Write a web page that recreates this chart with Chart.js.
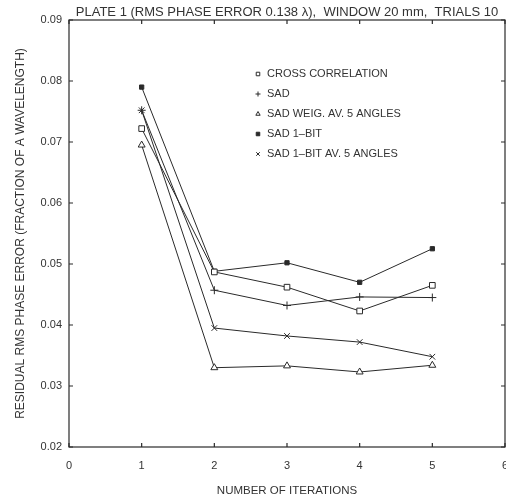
<!DOCTYPE html>
<html>
<head>
<meta charset="utf-8">
<script src="https://cdn.jsdelivr.net/npm/chart.js@4"></script>
<style>
  html, body { margin: 0; padding: 0; background: #fff; }
  #wrap { width: 506px; height: 501px; }
</style>
</head>
<body>
<div id="wrap"><canvas id="myChart" width="506" height="501"></canvas></div>
<script>
// data
const iterations = [1, 2, 3, 4, 5];
const crossCorrelation = [0.0722, 0.0487, 0.0462, 0.0423, 0.0465];
const sad = [0.0752, 0.0457, 0.0432, 0.0446, 0.0445];
const sadWeighted = [0.0695, 0.0330, 0.0333, 0.0323, 0.0334];
const sad1Bit = [0.0790, 0.0488, 0.0502, 0.0470, 0.0525];
const sad1BitAvg = [0.0752, 0.0395, 0.0382, 0.0372, 0.0348];

const xTickValues = [0, 1, 2, 3, 4, 5, 6];
const yTickValues = [0.02, 0.03, 0.04, 0.05, 0.06, 0.07, 0.08, 0.09];

const titleText = "PLATE 1 (RMS PHASE ERROR 0.138 \u03bb),  WINDOW 20 mm,  TRIALS 10";
const ink = "#2a2a2a";

Chart.defaults.font.family = "'Liberation Sans', Arial, sans-serif";
Chart.defaults.font.size = 11;
Chart.defaults.color = "#333";

function pts(arr) {
  return arr.map((v, i) => ({ x: iterations[i], y: v }));
}

function series(label, arr, style, filled) {
  return {
    label: label,
    data: pts(arr),
    borderColor: ink,
    borderWidth: 1,
    pointStyle: style,
    pointRadius: style === "rect" && filled ? 3 : 4,
    pointBorderWidth: 1,
    pointBorderColor: ink,
    pointBackgroundColor: filled ? ink : "#fff",
    fill: false,
    tension: 0,
  };
}

// box around the plot, inward ticks, title and the legend
const boxPlugin = {
  id: "box",
  afterDraw(chart) {
    const { ctx, chartArea: a, scales } = chart;
    const x = scales.x, y = scales.y;
    ctx.save();
    ctx.strokeStyle = ink;
    ctx.lineWidth = 1.2;
    ctx.strokeRect(a.left, a.top, a.right - a.left, a.bottom - a.top);
    ctx.beginPath();
    xTickValues.forEach(v => {
      const px = x.getPixelForValue(v);
      ctx.moveTo(px, a.bottom); ctx.lineTo(px, a.bottom - 4);
      ctx.moveTo(px, a.top); ctx.lineTo(px, a.top + 4);
    });
    yTickValues.forEach(v => {
      const py = y.getPixelForValue(v);
      ctx.moveTo(a.left, py); ctx.lineTo(a.left + 4, py);
      ctx.moveTo(a.right, py); ctx.lineTo(a.right - 4, py);
    });
    ctx.stroke();

    // title over the plot area
    ctx.fillStyle = "#333";
    ctx.font = "13px 'Liberation Sans', Arial, sans-serif";
    ctx.textAlign = "center";
    ctx.textBaseline = "middle";
    ctx.fillText(titleText, (a.left + a.right) / 2, 12);

    // legend inside the plot
    ctx.font = "11px 'Liberation Sans', Arial, sans-serif";
    ctx.textAlign = "left";
    chart.data.datasets.forEach((ds, i) => {
      const ly = 74 + i * 20;
      ctx.strokeStyle = ink;
      ctx.fillStyle = ds.pointBackgroundColor;
      ctx.lineWidth = 1;
      Chart.helpers.drawPoint(ctx, {
        pointStyle: ds.pointStyle,
        radius: 2.5,
        borderWidth: 1,
        rotation: 0,
      }, 258, ly);
      ctx.fillStyle = "#333";
      ctx.fillText(ds.label, 267, ly);
    });
    ctx.restore();
  },
};

const ctx = document.getElementById("myChart");
const myChart = new Chart(ctx, {
  type: "line",
  data: {
    datasets: [
      series("CROSS CORRELATION", crossCorrelation, "rect", false),
      series("SAD", sad, "cross", false),
      series("SAD WEIG. AV. 5 ANGLES", sadWeighted, "triangle", false),
      series("SAD 1\u2013BIT", sad1Bit, "rect", true),
      series("SAD 1\u2013BIT AV. 5 ANGLES", sad1BitAvg, "crossRot", false),
    ],
  },
  options: {
    responsive: false,
    animation: false,
    layout: {
      autoPadding: false,
      padding: { top: 20, right: 1, left: 0, bottom: 0 },
    },
    plugins: {
      legend: { display: false },
      tooltip: { enabled: false },
    },
    scales: {
      x: {
        type: "linear",
        min: 0,
        max: 6,
        grid: { display: false, drawTicks: false },
        border: { display: false },
        ticks: { stepSize: 1, padding: 12, color: "#333" },
        title: {
          display: true,
          text: "NUMBER OF ITERATIONS",
          padding: { top: 0, bottom: 3 },
          color: "#333",
          font: { size: 11.5 },
        },
        afterFit(scale) {
          scale.height = 54;
          scale.paddingLeft = 0;
          scale.paddingRight = 0;
        },
      },
      y: {
        type: "linear",
        min: 0.02,
        max: 0.09,
        grid: { display: false, drawTicks: false },
        border: { display: false },
        ticks: {
          stepSize: 0.01,
          padding: 7,
          color: "#333",
          callback: v => v.toFixed(2),
        },
        title: {
          display: true,
          text: "RESIDUAL RMS PHASE ERROR (FRACTION OF A WAVELENGTH)",
          padding: { top: 13, bottom: 0 },
          color: "#333",
          font: { size: 12 },
        },
        afterFit(scale) {
          scale.width = 69;
          scale.paddingTop = 0;
          scale.paddingBottom = 0;
        },
      },
    },
  },
  plugins: [boxPlugin],
});
</script>
</body>
</html>
